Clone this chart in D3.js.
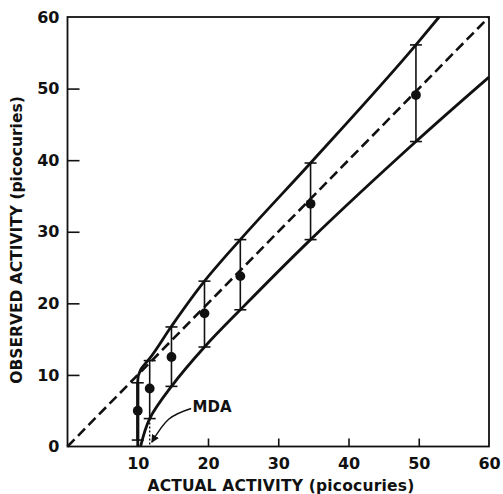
<!DOCTYPE html>
<html><head><meta charset="utf-8">
<script src="https://cdn.jsdelivr.net/npm/d3@7"></script>
<style>
body{margin:0;background:#fff;}
svg text{font-family:"DejaVu Sans",sans-serif;font-weight:bold;fill:#111;}
</style></head><body>
<svg id="chart" width="503" height="494"></svg>
<script>
// Data
const actual   = [10.0, 11.7, 14.8, 19.5, 24.6, 34.6, 49.6];
const observed = [5.0, 8.1, 12.5, 18.6, 23.8, 33.9, 49.1];
const barLow   = [0.9, 3.9, 8.4, 13.9, 19.1, 28.9, 42.6];
const barHigh  = [8.9, 12.0, 16.7, 23.1, 28.9, 39.6, 56.1];
const upperX = [10.0, 10.0, 10.4, 11.7, 14.8, 19.5, 24.6, 34.6, 49.6, 52.9];
const upperY = [0.0, 9.2, 10.7, 12.3, 16.8, 23.1, 28.9, 39.6, 56.1, 60.0];
const lowerX = [10.4, 11.7, 14.8, 19.5, 24.6, 34.6, 49.6, 60.0];
const lowerY = [0.0, 3.9, 8.4, 13.9, 19.1, 28.9, 42.6, 51.6];
const identity = [0, 60];
const xTicks = [10, 20, 30, 40, 50, 60];
const yTicks = [0, 10, 20, 30, 40, 50, 60];
const mdaLabel = {text: "MDA", x: 17.8, y: 4.8};
const mdaArrow = [[17.6, 5.3], [14.4, 3.8], [12.0, 0.6]];
const xTitle = "ACTUAL ACTIVITY (picocuries)";
const yTitle = "OBSERVED ACTIVITY (picocuries)";

const svg = d3.select("#chart");
const x = d3.scaleLinear().domain([0, 60]).range([67.5, 489]);
const y = d3.scaleLinear().domain([0, 60]).range([446.5, 17]);

// Frame
svg.append("rect").attr("x", x(0)).attr("y", y(60))
  .attr("width", x(60) - x(0)).attr("height", y(0) - y(60))
  .attr("fill", "none").attr("stroke", "#111").attr("stroke-width", 1.8);

// Axes
const xAxis = svg.append("g").attr("transform", `translate(0,${y(0)})`)
  .call(d3.axisBottom(x).tickValues(xTicks).tickSizeInner(-8).tickSizeOuter(0).tickPadding(9));
const yAxis = svg.append("g").attr("transform", `translate(${x(0)},0)`)
  .call(d3.axisLeft(y).tickValues(yTicks).tickSizeInner(-12).tickSizeOuter(0).tickPadding(8));
[xAxis, yAxis].forEach(g => {
  g.select(".domain").remove();
  g.selectAll(".tick line").attr("stroke", "#111").attr("stroke-width", 1.6);
  g.selectAll(".tick text").style("font-size", "16px").attr("fill", "#111");
});
xAxis.selectAll(".tick").filter(d => d === 60).select("line").remove();
yAxis.selectAll(".tick").filter(d => d === 0 || d === 60).select("line").remove();
xAxis.selectAll(".tick text").attr("dy", "0.85em");

// Identity dashed line
svg.append("line").attr("x1", x(identity[0])).attr("y1", y(identity[0]))
  .attr("x2", x(identity[1])).attr("y2", y(identity[1]))
  .attr("stroke", "#111").attr("stroke-width", 2.6).attr("stroke-dasharray", "10,5");

// Curves
const lineY = d3.line().x(d => x(d[0])).y(d => y(d[1])).curve(d3.curveMonotoneY);
const lineC = d3.line().x(d => x(d[0])).y(d => y(d[1])).curve(d3.curveCatmullRom.alpha(0.5));
svg.append("path").datum(upperX.map((v, i) => [v, upperY[i]]))
  .attr("d", lineY).attr("fill", "none").attr("stroke", "#111").attr("stroke-width", 2.8);
svg.append("path").datum(lowerX.map((v, i) => [v, lowerY[i]]))
  .attr("d", lineC).attr("fill", "none").attr("stroke", "#111").attr("stroke-width", 2.8);

// Error bars
const bars = actual.map((v, i) => ({x: v, y: observed[i], lo: barLow[i], hi: barHigh[i]}));
const g = svg.append("g");
g.selectAll("line.bar").data(bars).join("line").attr("class", "bar")
  .attr("x1", d => x(d.x)).attr("x2", d => x(d.x))
  .attr("y1", d => y(d.lo)).attr("y2", d => y(d.hi))
  .attr("stroke", "#111").attr("stroke-width", (d, i) => i === 0 ? 3 : 1.6);
["lo", "hi"].forEach(k => {
  g.selectAll("line.cap" + k).data(bars).join("line").attr("class", "cap" + k)
    .attr("x1", d => x(d.x) - 6).attr("x2", d => x(d.x) + 6)
    .attr("y1", d => y(d[k])).attr("y2", d => y(d[k]))
    .attr("stroke", "#111").attr("stroke-width", 1.6);
});
g.selectAll("circle").data(bars).join("circle")
  .attr("cx", d => x(d.x)).attr("cy", d => y(d.y)).attr("r", 4.9).attr("fill", "#111");

// Dotted extension of second bar to the axis
svg.append("line").attr("x1", x(actual[1])).attr("x2", x(actual[1]))
  .attr("y1", y(barLow[1])).attr("y2", y(0))
  .attr("stroke", "#111").attr("stroke-width", 1.4).attr("stroke-dasharray", "2,2");

// MDA annotation
svg.append("defs").append("marker").attr("id", "ah")
  .attr("viewBox", "0 0 10 10").attr("refX", 9).attr("refY", 5)
  .attr("markerWidth", 8).attr("markerHeight", 8).attr("markerUnits", "userSpaceOnUse")
  .attr("orient", "auto")
  .append("path").attr("d", "M0,0 L10,5 L0,10 Z").attr("fill", "#111");
svg.append("path").datum(mdaArrow)
  .attr("d", d3.line().x(d => x(d[0])).y(d => y(d[1])).curve(d3.curveNatural))
  .attr("fill", "none").attr("stroke", "#111").attr("stroke-width", 1.5)
  .attr("marker-end", "url(#ah)");
svg.append("text").attr("x", x(mdaLabel.x)).attr("y", y(mdaLabel.y))
  .style("font-size", "15px").text(mdaLabel.text);

// Axis titles
svg.append("text").attr("x", 281).attr("y", 491).attr("text-anchor", "middle")
  .style("font-size", "15.5px").style("letter-spacing", "0.2px").text(xTitle);
svg.append("text").attr("transform", "translate(21.5,240) rotate(-90)")
  .attr("text-anchor", "middle").style("font-size", "15.5px").text(yTitle);
</script>
</body></html>
